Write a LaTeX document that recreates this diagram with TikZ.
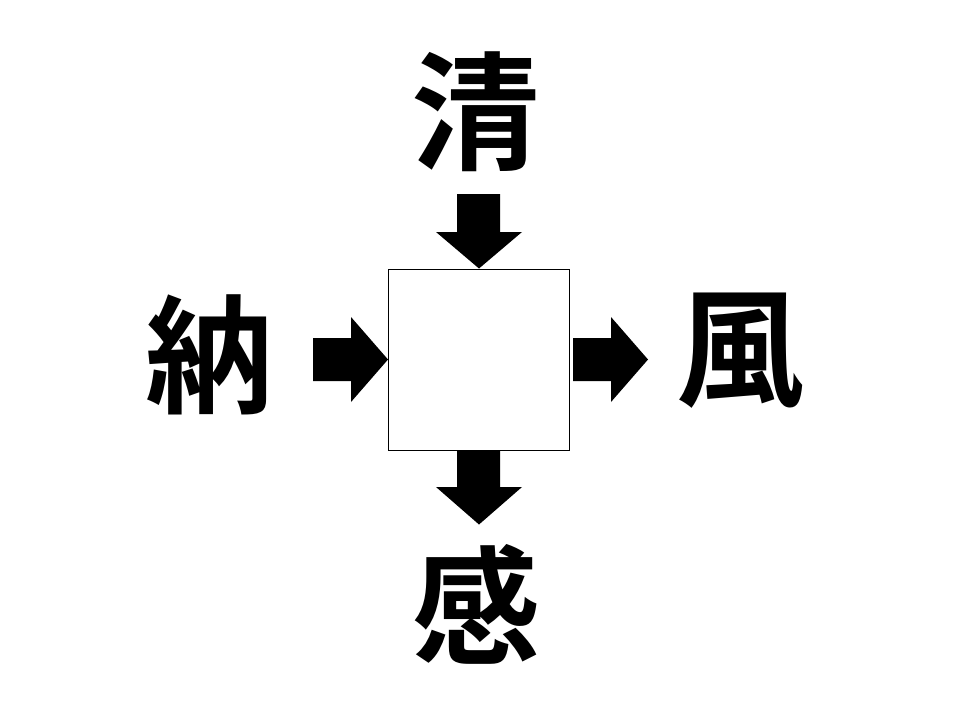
\documentclass[tikz,border=0pt]{standalone}
\usepackage{fontspec}
\newfontfamily\cjk{Noto Sans CJK JP}[BoldFont={Noto Sans CJK JP Bold}]
\begin{document}
\begin{tikzpicture}[x=1pt,y=-1pt,
  kanji/.style={inner sep=0pt,font=\cjk\bfseries\fontsize{128}{128}\selectfont},
  blockarrow/.style={fill=black,draw=none}]
\useasboundingbox[fill=white] (0,0) rectangle (960,720);
\node[draw=black,line width=1pt,minimum width=181pt,minimum height=181pt,inner sep=0pt] (box) at (479,359.5) {};
\node[kanji] (top) at (475,111.5) {清};
\node[kanji] (left) at (209,355) {納};
\node[kanji] (right) at (740,351) {風};
\node[kanji] (bottom) at (476,604) {感};
% top arrow
\coordinate (tt) at (box.north);
\fill[blockarrow] (457,194) -- (500,194) -- (500,232) -- (522,232) -- (tt) -- (436,232) -- (457,232) -- cycle;
% left arrow
\coordinate (lt) at (box.west);
\fill[blockarrow] (313,338) -- (351,338) -- (351,317) -- (lt) -- (351,402) -- (351,381) -- (313,381) -- cycle;
% right arrow
\coordinate (rt) at (648,359.5);
\fill[blockarrow] (573,338) -- (611,338) -- (611,317) -- (rt) -- (611,402) -- (611,381) -- (573,381) -- cycle;
% bottom arrow
\coordinate (bt) at (479,524.5);
\fill[blockarrow] (457,450) -- (500,450) -- (500,487) -- (522,487) -- (bt) -- (436,487) -- (457,487) -- cycle;
\end{tikzpicture}
\end{document}
